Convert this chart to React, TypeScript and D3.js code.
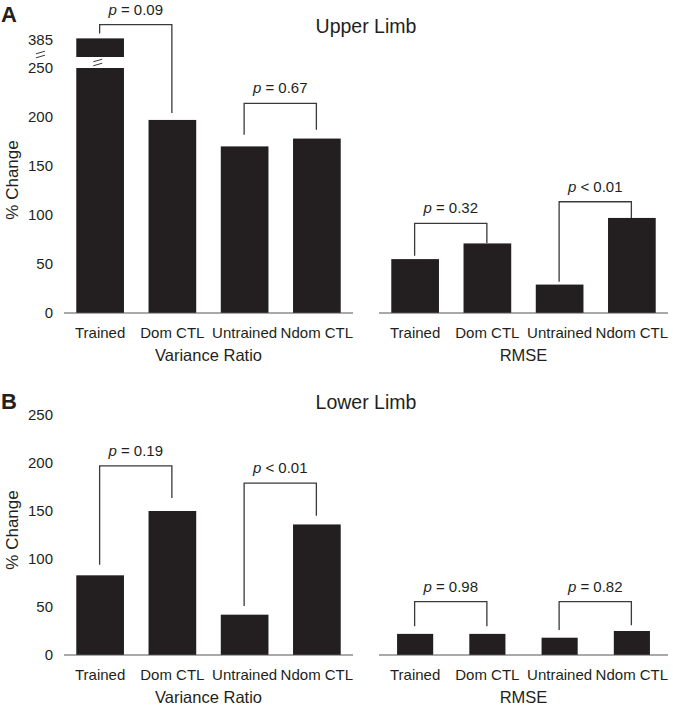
import * as d3 from "d3";

// values (% change)
const categories = ["Trained", "Dom CTL", "Untrained", "Ndom CTL"];
const upperVariance = [385, 197, 170, 178];
const upperRmse = [55, 71, 29, 97];
const lowerVariance = [83, 150, 42, 136];
const lowerRmse = [22, 22, 18, 25];
const yTicks = [0, 50, 100, 150, 200, 250];
const brokenTick = 385;

type Bracket = {
  from: number;
  to: number;
  top: number;
  legs: [number, number];
  text: string;
};

const upperVarianceBrackets: Bracket[] = [
  { from: 0, to: 1, top: 399, legs: [390, 204], text: "= 0.09" },
  { from: 2, to: 3, top: 214, legs: [182, 187], text: "= 0.67" },
];
const upperRmseBrackets: Bracket[] = [
  { from: 0, to: 1, top: 91.5, legs: [58.5, 71.5], text: "= 0.32" },
  { from: 2, to: 3, top: 113.5, legs: [32, 97], text: "< 0.01" },
];
const lowerVarianceBrackets: Bracket[] = [
  { from: 0, to: 1, top: 197, legs: [94, 163.5], text: "= 0.19" },
  { from: 2, to: 3, top: 179, legs: [51, 145], text: "< 0.01" },
];
const lowerRmseBrackets: Bracket[] = [
  { from: 0, to: 1, top: 55.5, legs: [30, 30], text: "= 0.98" },
  { from: 2, to: 3, top: 55.5, legs: [26, 31], text: "= 0.82" },
];

const FONT = "'Liberation Sans', Arial, Helvetica, sans-serif";
const BAR = "#231f20";
const INK = "#231f20";
const LINE = "#3a3a3a";

type Brk = { at: number; resume: number; gap: number };

function SubChart(props: {
  values: number[];
  brackets: Bracket[];
  range: [number, number];
  base: number;
  top: number;
  inner: number;
  showTicks: boolean;
  brk?: Brk;
  xTitle: string;
}) {
  const { values, brackets, range, base, top, inner, showTicks, brk, xTitle } = props;
  const x = d3
    .scaleBand<string>()
    .domain(categories)
    .range(range)
    .paddingInner(inner)
    .paddingOuter(inner / 2);
  const y = d3.scaleLinear().domain([0, 250]).range([base, top]);
  // piecewise scale for the broken axis
  const yv = (v: number) =>
    brk && v > brk.at ? y(brk.at) - brk.gap - (y(0) - y(v - brk.resume)) : y(v);
  const cx = (i: number) => (x(categories[i]) ?? 0) + x.bandwidth() / 2;

  const breakMark = (mx: number, my: number, key: string) => (
    <g key={key} stroke={LINE} strokeWidth={1}>
      {[-2, 2].map((d) => (
        <line key={d} x1={mx - 4.5} y1={my + d + 1.3} x2={mx + 4.5} y2={my + d - 1.3} />
      ))}
    </g>
  );

  return (
    <g>
      {values.map((v, i) => {
        const bx = x(categories[i]) ?? 0;
        const bw = x.bandwidth();
        if (brk && v > brk.at) {
          return (
            <g key={i}>
              <rect x={bx} y={y(brk.at)} width={bw} height={y(0) - y(brk.at)} fill={BAR} />
              <rect
                x={bx}
                y={yv(v)}
                width={bw}
                height={yv(brk.resume) - yv(v)}
                fill={BAR}
              />
              {breakMark(bx + bw * 0.45, y(brk.at) - brk.gap / 2, "bm")}
            </g>
          );
        }
        return <rect key={i} x={bx} y={y(v)} width={bw} height={y(0) - y(v)} fill={BAR} />;
      })}

      <line x1={range[0]} x2={range[1]} y1={base} y2={base} stroke="#555" strokeWidth={1.2} />

      {showTicks &&
        yTicks.map((t) => (
          <text
            key={t}
            x={range[0] - 11}
            y={y(t)}
            dy="0.35em"
            textAnchor="end"
            fontSize={15}
            fill={INK}
          >
            {t}
          </text>
        ))}
      {showTicks && brk && (
        <g>
          <text
            x={range[0] - 11}
            y={yv(brokenTick) + 1.5}
            dy="0.35em"
            textAnchor="end"
            fontSize={15}
            fill={INK}
          >
            {brokenTick}
          </text>
          {breakMark(range[0] - 23.5, y(brk.at) - 13.5, "am")}
        </g>
      )}

      {categories.map((c, i) => (
        <text
          key={c}
          x={cx(i)}
          y={base + 24.5}
          textAnchor="middle"
          fontSize={15}
          fill={INK}
        >
          {c}
        </text>
      ))}
      <text
        x={(range[0] + range[1]) / 2}
        y={base + 48}
        textAnchor="middle"
        fontSize={16.5}
        fill={INK}
      >
        {xTitle}
      </text>

      {brackets.map((b, k) => {
        const x1 = cx(b.from) - 0.5;
        const x2 = cx(b.to) - 0.5;
        const yt = yv(b.top);
        return (
          <g key={k}>
            <path
              d={`M${x1},${yv(b.legs[0])}V${yt}H${x2}V${yv(b.legs[1])}`}
              fill="none"
              stroke={LINE}
              strokeWidth={1.3}
            />
            <text
              x={(x1 + x2) / 2}
              y={yt - 10}
              textAnchor="middle"
              fontSize={15}
              fill={INK}
            >
              <tspan fontStyle="italic">p</tspan>
              {" " + b.text}
            </text>
          </g>
        );
      })}
    </g>
  );
}

function Panel(props: {
  letter: string;
  title: string;
  base: number;
  top: number;
  titleY: number;
  letterY: number;
  yLabelY: number;
  variance: number[];
  rmse: number[];
  varianceBrackets: Bracket[];
  rmseBrackets: Bracket[];
  rmseInner: number;
  brk?: Brk;
}) {
  const p = props;
  return (
    <g>
      <text x={1} y={p.letterY} fontSize={22} fontWeight="bold" fill={INK}>
        {p.letter}
      </text>
      <text x={366} y={p.titleY} textAnchor="middle" fontSize={19.5} fill={INK}>
        {p.title}
      </text>
      <text
        transform={`translate(17.5,${p.yLabelY}) rotate(-90)`}
        textAnchor="middle"
        fontSize={17}
        fill={INK}
      >
        % Change
      </text>
      <SubChart
        values={p.variance}
        brackets={p.varianceBrackets}
        range={[64, 353]}
        base={p.base}
        top={p.top}
        inner={0.34}
        showTicks
        brk={p.brk}
        xTitle="Variance Ratio"
      />
      <SubChart
        values={p.rmse}
        brackets={p.rmseBrackets}
        range={[379, 668]}
        base={p.base}
        top={p.top}
        inner={p.rmseInner}
        showTicks={false}
        xTitle="RMSE"
      />
    </g>
  );
}

export default function App() {
  return (
    <svg
      width={673}
      height={709}
      viewBox="0 0 673 709"
      style={{ position: "absolute", left: 0, top: 0, background: "#fff" }}
      fontFamily={FONT}
    >
      <Panel
        letter="A"
        title="Upper Limb"
        base={313}
        top={68}
        titleY={33}
        letterY={22}
        yLabelY={180}
        variance={upperVariance}
        rmse={upperRmse}
        varianceBrackets={upperVarianceBrackets}
        rmseBrackets={upperRmseBrackets}
        rmseInner={0.34}
        brk={{ at: 250, resume: 366, gap: 11 }}
      />
      <Panel
        letter="B"
        title="Lower Limb"
        base={655}
        top={415}
        titleY={409}
        letterY={409}
        yLabelY={530}
        variance={lowerVariance}
        rmse={lowerRmse}
        varianceBrackets={lowerVarianceBrackets}
        rmseBrackets={lowerRmseBrackets}
        rmseInner={0.5}
      />
    </svg>
  );
}
